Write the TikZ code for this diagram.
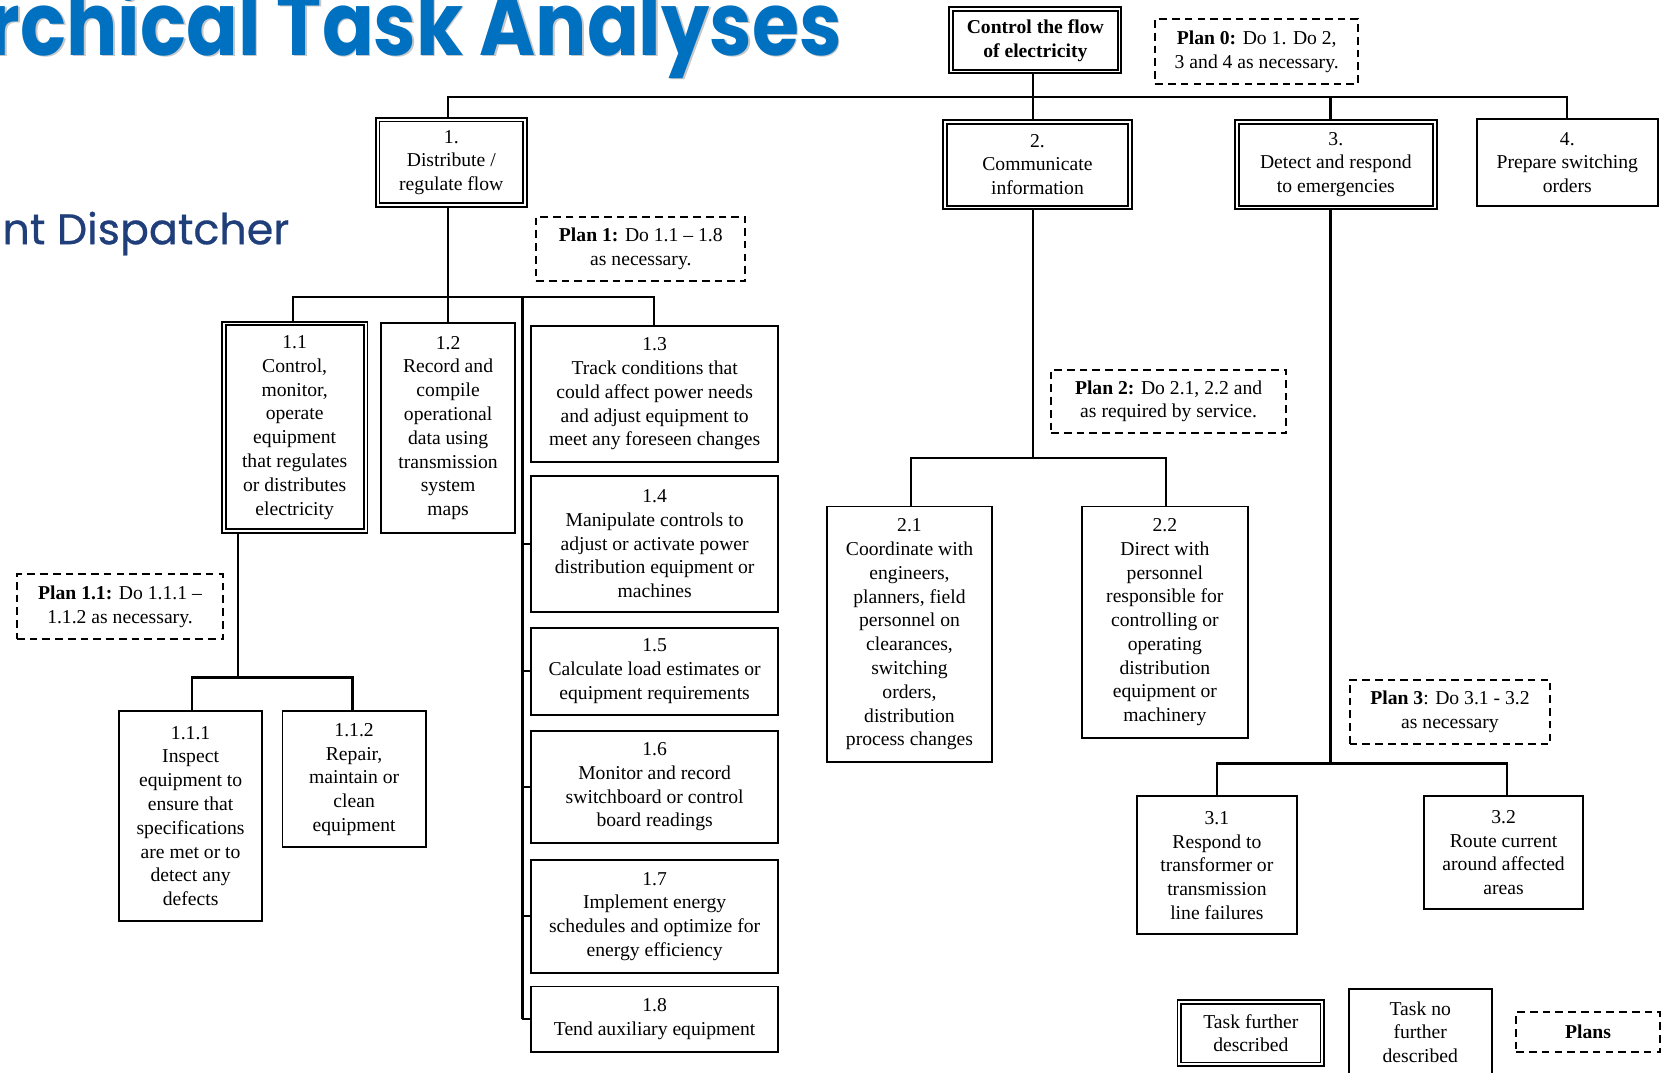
\documentclass[tikz,border=0pt]{standalone}
\usepackage{fontspec}
\setmainfont{Liberation Serif}
\newfontfamily\titlefont{Poppins}
\newfontfamily\subfont[FakeBold=0.6]{Poppins}
\usetikzlibrary{calc}
\definecolor{titleblue}{HTML}{0070C0}
\definecolor{subblue}{HTML}{1F3E7A}
\newcommand{\taskbox}[8]{%
  \node[#2, minimum width={(#6-#4)*0.5pt-2*#3}, minimum height={(#7-#5)*0.5pt-2*#3}] (#1) at ({(#4+#6)/2},{(#5+#7)/2}) {#8};}
\newcommand{\titletext}{\scalebox{1}[1.15]{\resizebox{402pt}{!}{\titlefont\bfseries rchical Task Analyses}}}
\tikzset{
  every node/.style={font=\fontsize{9.25}{11.2}\selectfont, align=center, inner sep=0pt},
  sbox/.style={draw, line width=0.9pt},
  dbox/.style={draw, line width=0.9pt, double, double distance=0.85pt, outer sep=1.33pt},
  pbox/.style={draw, line width=0.95pt, dash pattern=on 3.6pt off 2.4pt},
  conn/.style={line width=1pt},
}
\begin{document}
\begin{tikzpicture}[x=0.5pt,y=-0.5pt]
\useasboundingbox (0,0) rectangle (1568,1010);
\clip (0,0) rectangle (1568,1010);
% titles
\node[anchor=base east, text=black!22] (titleshadow) at (794.5,53.5) {\titletext};
\node[anchor=base east, text=titleblue] (title) at (793,52) {\titletext};
\node[anchor=base west, text=subblue] (sub) at (2,230) {\resizebox{135pt}{!}{\subfont nt Dispatcher}};
% boxes
\taskbox{root}{dbox}{1.33pt}{893}{6}{1057}{70}{\textbf{Control the flow}\\\textbf{of electricity}}
\taskbox{p0}{pbox}{0pt}{1088}{18}{1279}{79}{\textbf{Plan 0:} Do 1. Do 2,\\3 and 4 as necessary.}
\taskbox{n1}{dbox}{1.33pt}{353}{110}{497}{196}{1.\\Distribute /\\regulate flow}
\taskbox{n2}{dbox}{1.33pt}{887}{112}{1067}{198}{2.\\Communicate\\information}
\taskbox{n3}{dbox}{1.33pt}{1162}{112}{1354}{198}{3.\\Detect and respond\\to emergencies}
\taskbox{n4}{sbox}{0pt}{1391}{112}{1561}{194}{4.\\Prepare switching\\orders}
\taskbox{p1}{pbox}{0pt}{505}{204}{702}{265}{\textbf{Plan 1:} Do 1.1 -- 1.8\\as necessary.}
\taskbox{n11}{dbox}{1.33pt}{208}{302}{347}{503}{1.1\\Control,\\monitor,\\operate\\equipment\\that regulates\\or distributes\\electricity}
\taskbox{n12}{sbox}{0pt}{359}{304}{485}{502}{1.2\\Record and\\compile\\operational\\data using\\transmission\\system\\maps}
\taskbox{n13}{sbox}{0pt}{500}{307}{733}{435}{1.3\\Track conditions that\\could affect power needs\\and adjust equipment to\\meet any foreseen changes}
\taskbox{n14}{sbox}{0pt}{500}{448}{733}{576}{1.4\\Manipulate controls to\\adjust or activate power\\distribution equipment or\\machines}
\taskbox{n15}{sbox}{0pt}{500}{591}{733}{673}{1.5\\Calculate load estimates or\\equipment requirements}
\taskbox{n16}{sbox}{0pt}{500}{688}{733}{794}{1.6\\Monitor and record\\switchboard or control\\board readings}
\taskbox{n17}{sbox}{0pt}{500}{810}{733}{916}{1.7\\Implement energy\\schedules and optimize for\\energy efficiency}
\taskbox{n18}{sbox}{0pt}{500}{929}{733}{991}{1.8\\Tend auxiliary equipment}
\taskbox{p11}{pbox}{0pt}{16}{541}{210}{602}{\textbf{Plan 1.1:} Do 1.1.1 --\\1.1.2 as necessary.}
\taskbox{n111}{sbox}{0pt}{112}{670}{247}{867}{1.1.1\\Inspect\\equipment to\\ensure that\\specifications\\are met or to\\detect any\\defects}
\taskbox{n112}{sbox}{0pt}{266}{670}{401}{798}{1.1.2\\Repair,\\maintain or\\clean\\equipment}
\taskbox{p2}{pbox}{0pt}{990}{348}{1211}{408}{\textbf{Plan 2:} Do 2.1, 2.2 and\\as required by service.}
\taskbox{n21}{sbox}{0pt}{779}{477}{934}{718}{2.1\\Coordinate with\\engineers,\\planners, field\\personnel on\\clearances,\\switching\\orders,\\distribution\\process changes}
\taskbox{n22}{sbox}{0pt}{1019}{477}{1175}{695}{2.2\\Direct with\\personnel\\responsible for\\controlling or\\operating\\distribution\\equipment or\\machinery}
\taskbox{p3}{pbox}{0pt}{1271}{640}{1460}{701}{\textbf{Plan 3}: Do 3.1 - 3.2\\as necessary}
\taskbox{n31}{sbox}{0pt}{1071}{750}{1221}{880}{3.1\\Respond to\\transformer or\\transmission\\line failures}
\taskbox{n32}{sbox}{0pt}{1341}{750}{1491}{856}{3.2\\Route current\\around affected\\areas}
% legend
\taskbox{lg1}{dbox}{1.33pt}{1108}{941}{1248}{1005}{Task further\\described}
\taskbox{lg2}{sbox}{0pt}{1270}{931}{1405}{1013}{Task no\\further\\described}
\taskbox{lg3}{pbox}{0pt}{1428}{953}{1563}{991}{\textbf{Plans}}
% junctions
\coordinate (j0) at (973,91);
\coordinate (j1) at (422,91);
\coordinate (j3) at (1253,91);
\coordinate (j4) at (1476,91);
\coordinate (j10) at (422,280);
\coordinate (j11) at (276,280);
\coordinate (j13) at (616,280);
\coordinate (js) at (492,280);
\coordinate (j110) at (224,638);
\coordinate (j111) at (181,638);
\coordinate (j112) at (332,638);
\coordinate (j20) at (973,431);
\coordinate (j21) at (858,431);
\coordinate (j22) at (1098,431);
\coordinate (j30) at (1253,719);
\coordinate (j31) at (1146,719);
\coordinate (j32) at (1419,719);
% connectors
\draw[conn] (root.south -| j0) -- (j0 |- n2.north);
\draw[conn] (j1 |- n1.north) -- (j1) -- (j4) -- (j4 |- n4.north);
\draw[conn] (j3) -- (j3 |- n3.north);
\draw[conn] (n1.south -| j10) -- (j10 |- n12.north);
\draw[conn] (j11 |- n11.north) -- (j11) -- (j13) -- (j13 |- n13.north);
\draw[conn] (js) -- (js |- n18.west);
\foreach \n in {n14,n15,n16,n17,n18} \draw[conn] (js |- \n.west) -- (\n.west);
\draw[conn] (n11.south -| j110) -- (j110);
\draw[conn] (j111 |- n111.north) -- (j111) -- (j112) -- (j112 |- n112.north);
\draw[conn] (n2.south -| j20) -- (j20);
\draw[conn] (j21 |- n21.north) -- (j21) -- (j22) -- (j22 |- n22.north);
\draw[conn] (n3.south -| j30) -- (j30);
\draw[conn] (j31 |- n31.north) -- (j31) -- (j32) -- (j32 |- n32.north);
\end{tikzpicture}
\end{document}
